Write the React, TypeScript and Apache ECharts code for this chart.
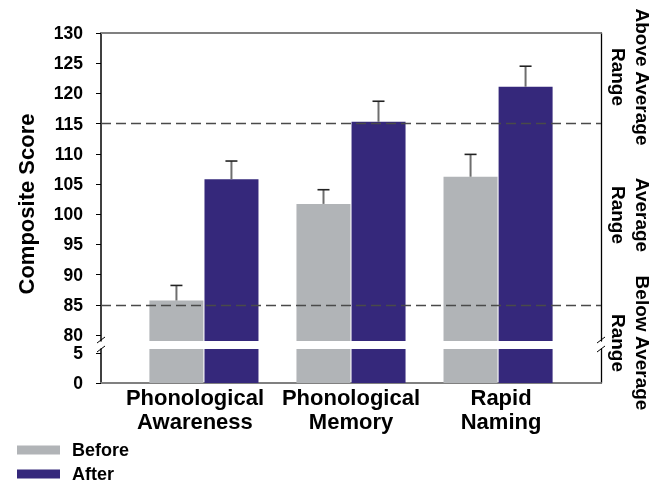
import React, { useEffect, useRef } from "react";
import * as echarts from "echarts";

const categories = ["Phonological\nAwareness", "Phonological\nMemory", "Rapid\nNaming"];
const categoryPositions = [1, 2, 3];
const beforeValues = [85.7, 101.7, 106.2];
const afterValues = [105.8, 115.3, 121.1];
const beforeErrors = [2.5, 2.35, 3.7];
const afterErrors = [3.0, 3.4, 3.4];
const upperTicks = [80, 85, 90, 95, 100, 105, 110, 115, 120, 125, 130];
const lowerTicks = [0, 5];
const rangeLines = [85, 115];

const GRAY = "#b1b4b7";
const BLUE = "#35287b";
const FONT = "'Liberation Sans', Arial, sans-serif";

export default function App() {
  const ref = useRef<HTMLDivElement>(null);
  useEffect(() => {
    if (!ref.current) return;
    const chart = echarts.init(ref.current, null, { renderer: "svg" });
    const toPairs = (vals: number[]) => vals.map((v, i) => [categoryPositions[i], v]);
    const errData = [
      ...beforeValues.map((v, i) => [categoryPositions[i], v, beforeErrors[i], -1]),
      ...afterValues.map((v, i) => [categoryPositions[i], v, afterErrors[i], 1]),
    ];
    const xCommon = {
      type: "value",
      min: 0.3,
      max: 3.7,
      splitLine: { show: false },
      axisTick: { show: false },
    };
    const catLabelStyle = { fontSize: 22, lineHeight: 24, fontWeight: "bold", color: "#000", fontFamily: FONT };
    const yLabelStyle = { fontSize: 17.5, lineHeight: 16, fontWeight: "bold", color: "#000", fontFamily: FONT, margin: 18 };
    const option: any = {
      animation: false,
      textStyle: { fontFamily: FONT },
      grid: [
        { left: 101, width: 500, top: 33, height: 308 },
        { left: 101, width: 500, top: 349, height: 34 },
      ],
      legend: {
        data: ["Before", "After"],
        orient: "vertical",
        left: 17,
        bottom: 1,
        padding: 0,
        itemWidth: 43,
        itemHeight: 9,
        itemGap: 6,
        icon: "rect",
        textStyle: {
          fontSize: 18,
          lineHeight: 18,
          fontWeight: "bold",
          color: "#000",
          fontFamily: FONT,
          padding: [0, 0, 0, 7],
        },
      },
      xAxis: [
        {
          ...xCommon,
          gridIndex: 0,
          position: "top",
          axisLabel: { show: false },
          axisLine: { show: true, lineStyle: { color: "#808080", width: 2 } },
        },
        {
          ...xCommon,
          gridIndex: 1,
          position: "bottom",
          axisLine: { show: true, lineStyle: { color: "#808080", width: 2 } },
          axisLabel: {
            show: true,
            customValues: categoryPositions,
            formatter: (v: number) => {
              const i = Math.round(v) - 1;
              const txt = categories[i] ?? "";
              if (i === 0) return "{a|" + txt.split("\n").join("}\n{a|") + "}";
              if (i === 2) return "{c|" + txt.split("\n").join("}\n{c|") + "}";
              return txt;
            },
            ...catLabelStyle,
            margin: 2,
            rich: {
              a: { ...catLabelStyle, padding: [0, 18, 0, 0] },
              c: { ...catLabelStyle, padding: [0, 0, 0, 6] },
            },
          },
        },
      ],
      yAxis: [
        {
          type: "value",
          gridIndex: 0,
          min: 79,
          max: 130,
          splitLine: { show: false },
          axisLine: { show: true, lineStyle: { color: "#000", width: 1.5 } },
          axisTick: { show: true, length: 5, customValues: upperTicks, lineStyle: { color: "#000" } },
          axisLabel: { customValues: upperTicks, ...yLabelStyle, padding: [0, 0, 3, 0] },
        },
        {
          type: "value",
          gridIndex: 0,
          position: "right",
          min: 79,
          max: 130,
          splitLine: { show: false },
          axisLine: { show: true, lineStyle: { color: "#000", width: 1.3 } },
          axisTick: { show: false },
          axisLabel: { show: false },
        },
        {
          type: "value",
          gridIndex: 1,
          min: 0,
          max: 5.67,
          splitLine: { show: false },
          axisLine: { show: true, lineStyle: { color: "#000", width: 1.5 } },
          axisTick: { show: true, length: 5, customValues: lowerTicks, lineStyle: { color: "#000" } },
          axisLabel: { customValues: lowerTicks, ...yLabelStyle, padding: [5, 0, 0, 0] },
        },
        {
          type: "value",
          gridIndex: 1,
          position: "right",
          min: 0,
          max: 5.67,
          splitLine: { show: false },
          axisLine: { show: true, lineStyle: { color: "#000", width: 1.3 } },
          axisTick: { show: false },
          axisLabel: { show: false },
        },
      ],
      series: [
        {
          name: "Before",
          type: "bar",
          xAxisIndex: 0,
          yAxisIndex: 0,
          data: toPairs(beforeValues),
          barWidth: 54,
          barGap: "2%",
          clip: true,
          itemStyle: { color: GRAY },
        },
        {
          name: "After",
          type: "bar",
          xAxisIndex: 0,
          yAxisIndex: 0,
          data: toPairs(afterValues),
          barWidth: 54,
          barGap: "2%",
          clip: true,
          itemStyle: { color: BLUE },
        },
        {
          name: "Before",
          type: "bar",
          xAxisIndex: 1,
          yAxisIndex: 2,
          data: toPairs(beforeValues),
          barWidth: 54,
          barGap: "2%",
          clip: true,
          itemStyle: { color: GRAY },
        },
        {
          name: "After",
          type: "bar",
          xAxisIndex: 1,
          yAxisIndex: 2,
          data: toPairs(afterValues),
          barWidth: 54,
          barGap: "2%",
          clip: true,
          itemStyle: { color: BLUE },
        },
        {
          name: "errors",
          type: "custom",
          xAxisIndex: 0,
          yAxisIndex: 0,
          z: 5,
          data: errData,
          encode: { x: 0, y: 1 },
          renderItem: (params: any, api: any) => {
            const x = api.value(0);
            const v = api.value(1);
            const e = api.value(2);
            const side = api.value(3);
            const base = api.coord([x, v]);
            const top = api.coord([x, v + e]);
            const cx = base[0] + side * 27.5;
            return {
              type: "group",
              children: [
                {
                  type: "line",
                  shape: { x1: cx, y1: base[1], x2: cx, y2: top[1] },
                  style: { stroke: "#6e6e6e", lineWidth: 2 },
                },
                {
                  type: "line",
                  shape: { x1: cx - 6, y1: top[1], x2: cx + 6, y2: top[1] },
                  style: { stroke: "#222", lineWidth: 1.6 },
                },
              ],
            };
          },
          markLine: {
            silent: true,
            symbol: "none",
            label: { show: false },
            z: 10,
            lineStyle: { type: [10, 5], color: "#4a4a4a", width: 1.3 },
            data: rangeLines.map((v) => ({ yAxis: v })),
          },
        },
      ],
      graphic: [
        {
          type: "text",
          x: 26,
          y: 204,
          rotation: Math.PI / 2,
          style: {
            text: "Composite Score",
            fontSize: 22,
            fontWeight: "bold",
            fontFamily: FONT,
            fill: "#000",
            align: "center",
            verticalAlign: "middle",
          },
        },
        {
          type: "text",
          x: 630,
          y: 77,
          rotation: -Math.PI / 2,
          style: {
            text: "Above Average\nRange",
            fontSize: 19,
            lineHeight: 24,
            fontWeight: "bold",
            fontFamily: FONT,
            fill: "#000",
            align: "center",
            verticalAlign: "middle",
          },
        },
        {
          type: "text",
          x: 630,
          y: 215,
          rotation: -Math.PI / 2,
          style: {
            text: "Average\nRange",
            fontSize: 19,
            lineHeight: 24,
            fontWeight: "bold",
            fontFamily: FONT,
            fill: "#000",
            align: "center",
            verticalAlign: "middle",
          },
        },
        {
          type: "text",
          x: 630,
          y: 343,
          rotation: -Math.PI / 2,
          style: {
            text: "Below Average\nRange",
            fontSize: 19,
            lineHeight: 24,
            fontWeight: "bold",
            fontFamily: FONT,
            fill: "#000",
            align: "center",
            verticalAlign: "middle",
          },
        },
        { type: "line", shape: { x1: 97, y1: 343, x2: 105, y2: 337 }, style: { stroke: "#000", lineWidth: 1 } },
        { type: "line", shape: { x1: 97, y1: 352, x2: 105, y2: 346 }, style: { stroke: "#000", lineWidth: 1 } },
        { type: "line", shape: { x1: 597, y1: 343, x2: 605, y2: 337 }, style: { stroke: "#000", lineWidth: 1 } },
        { type: "line", shape: { x1: 597, y1: 352, x2: 605, y2: 346 }, style: { stroke: "#000", lineWidth: 1 } },
      ],
    };
    chart.setOption(option);
    return () => chart.dispose();
  }, []);
  return (
    <div
      ref={ref}
      style={{ position: "fixed", left: 0, top: 0, width: 663, height: 484, overflow: "hidden" }}
    />
  );
}
